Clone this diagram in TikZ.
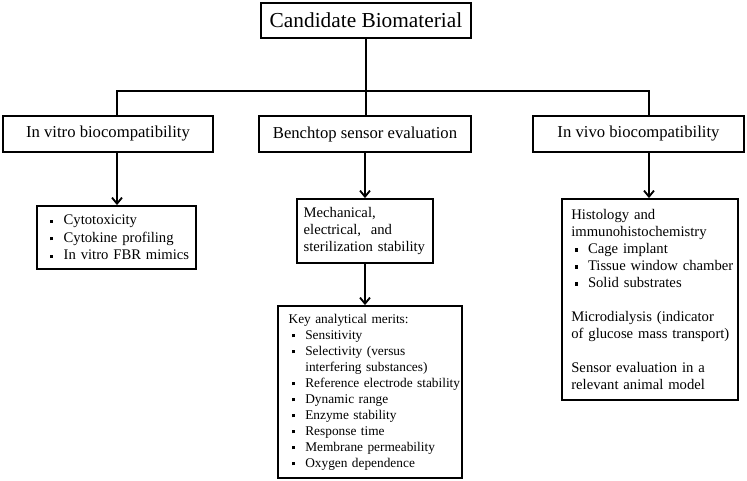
\documentclass[tikz,border=0pt]{standalone}
\usepackage{fontspec}
\setmainfont{Liberation Serif}
\usetikzlibrary{arrows.meta, positioning}
\newcommand{\itm}{\hspace*{2.5pt}\makebox[10pt][l]{\rule[0.3ex]{2.3pt}{2.3pt}}}
\newcommand{\cont}{\hspace*{12.5pt}}

\begin{document}
\begin{tikzpicture}[
    x=0.75pt,
    y=-0.75pt,
    line width=1.4pt,
    box/.style={draw, line width=1.4pt, inner sep=0pt, align=center},
    listbox/.style={draw, line width=1.4pt, inner ysep=0pt, align=left},
    arr/.style={-{Straight Barb[length=4.5pt, width=7.5pt]}},
]
    \useasboundingbox (0,0) rectangle (747,480);

    \node[box, minimum width=157.5pt, minimum height=26.25pt, font=\fontsize{16}{18}\selectfont] (top) at (366,20.5) {Candidate Biomaterial};

    \node[box, minimum width=157.5pt, minimum height=27pt, font=\fontsize{12.5}{14}\selectfont] (vitro) at (108,134) {In vitro biocompatibility};
    \node[box, minimum width=159pt, minimum height=27pt, font=\fontsize{12.5}{14}\selectfont] (bench) at (365,134) {Benchtop sensor evaluation};
    \node[box, minimum width=158.25pt, minimum height=27pt, font=\fontsize{12.5}{14}\selectfont] (vivo) at (638.5,134) {In vivo biocompatibility};

    \node[listbox, inner xsep=7.5pt, text width=104.25pt, minimum height=47.25pt, font=\fontsize{11}{13}\selectfont] (cells) at (116.5,237.5) {
        \mbox{\itm Cytotoxicity}\\
        \mbox{\itm Cytokine profiling}\\
        \mbox{\itm In vitro FBR mimics}
    };
    \node[listbox, inner xsep=5pt, text width=92pt, minimum height=48pt, font=\fontsize{11}{13}\selectfont] (mech) at (365,231) {
        Mechanical,\\
        electrical,\ \ and\\
        \mbox{sterilization stability}
    };
    \node[listbox, inner xsep=8pt, text width=122pt, minimum height=129pt, font=\fontsize{10}{12}\selectfont] (keys) at (370,392) {
        Key analytical merits:\\
        \itm Sensitivity\\
        \mbox{\itm Selectivity (versus}\\
        \mbox{\cont interfering substances)}\\
        \mbox{\itm Reference electrode stability}\\
        \itm Dynamic range\\
        \itm Enzyme stability\\
        \itm Response time\\
        \mbox{\itm Membrane permeability}\\
        \mbox{\itm Oxygen dependence}
    };
    \node[listbox, inner xsep=7pt, text width=118pt, minimum height=150.75pt, font=\fontsize{11}{12.75}\selectfont] (histo) at (650,299.5) {
        Histology and\\
        \mbox{immunohistochemistry}\\
        \mbox{\itm Cage implant}\\
        \mbox{\itm Tissue window chamber}\\
        \mbox{\itm Solid substrates}\\[12.75pt]
        \mbox{Microdialysis (indicator}\\
        \mbox{of glucose mass transport)}\\[12.75pt]
        \mbox{Sensor evaluation in a}\\
        \mbox{relevant animal model}
    };

    \coordinate (busL) at (117,91);
    \coordinate (busR) at (649,91);

    \draw (top.south) -- (top.south |- bench.north);
    \draw (busL |- vitro.north) -- (busL) -- (busR) -- (busR |- vivo.north);

    \draw[arr] (busL |- vitro.south) -- (busL |- cells.north);
    \draw[arr] (mech.north |- bench.south) -- (mech.north);
    \draw[arr] (mech.south) -- (mech.south |- keys.north);
    \draw[arr] (busR |- vivo.south) -- (busR |- histo.north);
\end{tikzpicture}
\end{document}
